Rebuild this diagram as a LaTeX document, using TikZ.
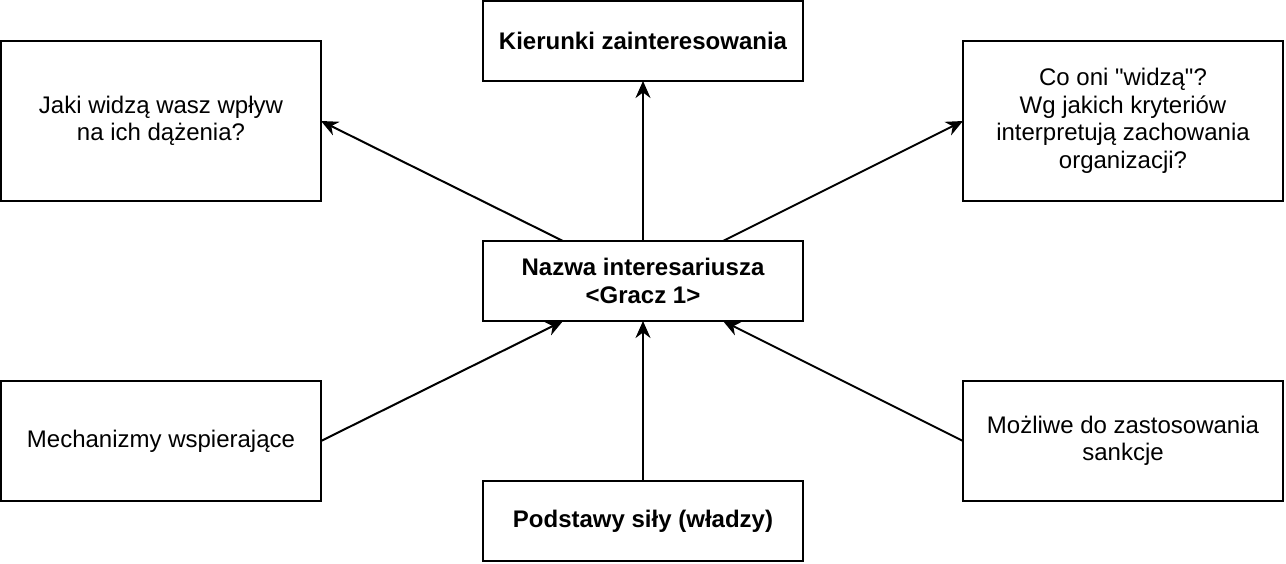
\documentclass[tikz,border=0pt]{standalone}
\usepackage{fontspec}
\setmainfont{Liberation Sans}[Ligatures=TeXOff]
\usetikzlibrary{arrows.meta,calc}
\begin{document}
\begin{tikzpicture}[x=1pt,y=-1pt,
  box/.style={draw=black,line width=2pt,fill=white,inner sep=0pt,outer sep=0pt,
    minimum width=320pt,align=center,font=\fontsize{24}{27.5}\selectfont},
  boldbox/.style={box,font=\fontsize{24}{27.5}\selectfont\bfseries},
  conn/.style={line width=2pt,-{Stealth[length=17pt,width=15pt,inset=5.5pt]}}]
\useasboundingbox (0,0) rectangle (1286,564);
\node[boldbox,minimum height=80pt] (top) at (643,41) {Kierunki zainteresowania};
\node[box,minimum height=160pt] (tl) at (161,121) {Jaki widzą wasz wpływ\\na ich dążenia?};
\node[box,minimum height=160pt] (tr) at (1123,121) {Co oni "widzą"?\\Wg jakich kryteriów\\interpretują zachowania\\organizacji?};
\node[boldbox,minimum height=80pt] (c) at (643,281) {Nazwa interesariusza\\<Gracz 1>};
\node[box,minimum height=120pt] (bl) at (161,441) {Mechanizmy wspierające};
\node[box,minimum height=120pt] (br) at (1123,441) {Możliwe do zastosowania\\sankcje};
\node[boldbox,minimum height=80pt] (bot) at (643,521) {Podstawy siły (władzy)};
\coordinate (cnw) at ($(c.north)!0.5!(c.north west)$);
\coordinate (cne) at ($(c.north)!0.5!(c.north east)$);
\coordinate (csw) at ($(c.south)!0.5!(c.south west)$);
\coordinate (cse) at ($(c.south)!0.5!(c.south east)$);
\draw[conn] (c.north) -- (top.south);
\draw[conn] (cnw) -- (tl.east);
\draw[conn] (cne) -- (tr.west);
\draw[conn] (bl.east) -- (csw);
\draw[conn] (bot.north) -- (c.south);
\draw[conn] (br.west) -- (cse);
\end{tikzpicture}
\end{document}
